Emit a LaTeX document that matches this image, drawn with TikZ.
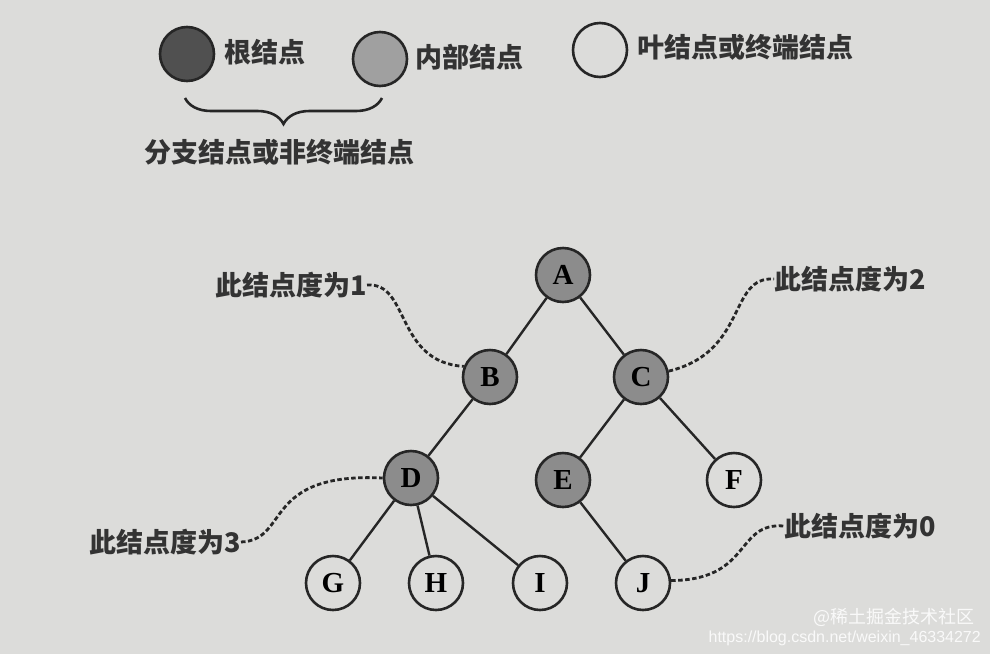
\documentclass[tikz,border=0pt]{standalone}
\usepackage{fontspec}
\setmainfont{Liberation Serif}
\newfontfamily\cjk{Noto Sans CJK SC}
\newfontfamily\wmfont{Liberation Sans}
\usetikzlibrary{decorations.pathreplacing}

\definecolor{paper}{RGB}{220,220,218}
\definecolor{rootgray}{RGB}{80,80,80}
\definecolor{innergray}{RGB}{160,160,160}
\definecolor{treegray}{RGB}{140,140,140}

\begin{document}
\begin{tikzpicture}[x=1pt, y=-1pt,
    keynode/.style={shape=circle, draw=black!85, line width=2.6pt, minimum size=54pt, inner sep=0pt},
    branchnode/.style={shape=circle, draw=black!85, line width=2.6pt, fill=treegray, minimum size=54pt, inner sep=0pt, font=\fontsize{29}{30}\selectfont\bfseries},
    leafnode/.style={shape=circle, draw=black!85, line width=2.6pt, fill=paper, minimum size=54pt, inner sep=0pt, font=\fontsize{29}{30}\selectfont\bfseries},
    keytext/.style={font=\cjk\bfseries\fontsize{27}{30}\selectfont, text=black!80, inner sep=0pt},
    degline/.style={draw=black!85, line width=2.8pt, dash pattern=on 4.5pt off 2.5pt},
]
\path[fill=paper] (0,0) rectangle (990,654);

% legend
\node[keynode, fill=rootgray] (rootkey) at (187, 54) {};
\node[keytext, anchor=west] (roottxt) at (224, 52) {根结点};
\node[keynode, fill=innergray] (innerkey) at (380, 59) {};
\node[keytext, anchor=west] (innertxt) at (415, 57) {内部结点};
\node[keynode, fill=paper] (leafkey) at (600, 50) {};
\node[keytext, anchor=west] (leaftxt) at (637, 47) {叶结点或终端结点};
\coordinate (bracel) at (185, 98);
\coordinate (bracer) at (382, 98);
\draw[line width=2.6pt, black!85, decorate, decoration={brace, mirror, amplitude=26pt}] (bracel) -- (bracer);
\node[keytext] (branchtxt) at (279, 152) {分支结点或非终端结点};

% tree
\node[branchnode] (A) at (563, 275) {A};
\node[branchnode] (B) at (490, 377) {B};
\node[branchnode] (C) at (641, 377) {C};
\node[branchnode] (D) at (411, 478) {D};
\node[branchnode] (E) at (563, 480) {E};
\node[leafnode] (F) at (734, 480) {F};
\node[leafnode] (G) at (333, 583) {G};
\node[leafnode] (H) at (436, 583) {H};
\node[leafnode] (I) at (540, 583) {I};
\node[leafnode] (J) at (643, 583) {J};

\path[draw=black!85, line width=2.4pt]
    (A) edge (B)
    (A) edge (C)
    (B) edge (D)
    (C) edge (E)
    (C) edge (F)
    (D) edge (G)
    (D) edge (H)
    (D) edge (I)
    (E) edge (J)
;

% degree labels
\node[keytext, anchor=east] (deg1) at (367, 285) {此结点度为1};
\node[keytext, anchor=west] (deg2) at (774, 279) {此结点度为2};
\node[keytext, anchor=east] (deg3) at (241, 542) {此结点度为3};
\node[keytext, anchor=west] (deg0) at (784, 526) {此结点度为0};

\draw[degline] (deg1.east) .. controls (410, 282) and (395, 362) .. (B.158);
\draw[degline] (C.12) .. controls (748, 352) and (728, 276) .. (deg2.west);
\draw[degline] (deg3.east) .. controls (290, 540) and (262, 472) .. (D.180);
\draw[degline] (J.5) .. controls (752, 580) and (735, 522) .. (deg0.west);

% watermark
\node[font=\cjk\fontsize{18}{20}\selectfont, text=white, opacity=0.85, anchor=east, inner sep=0pt] (wm1) at (975, 617) {@稀土掘金技术社区};
\node[font=\wmfont\fontsize{16}{18}\selectfont, text=white, opacity=0.85, anchor=east, inner sep=0pt] (wm2) at (981, 638) {https://blog.csdn.net/weixin\_46334272};
\end{tikzpicture}
\end{document}
